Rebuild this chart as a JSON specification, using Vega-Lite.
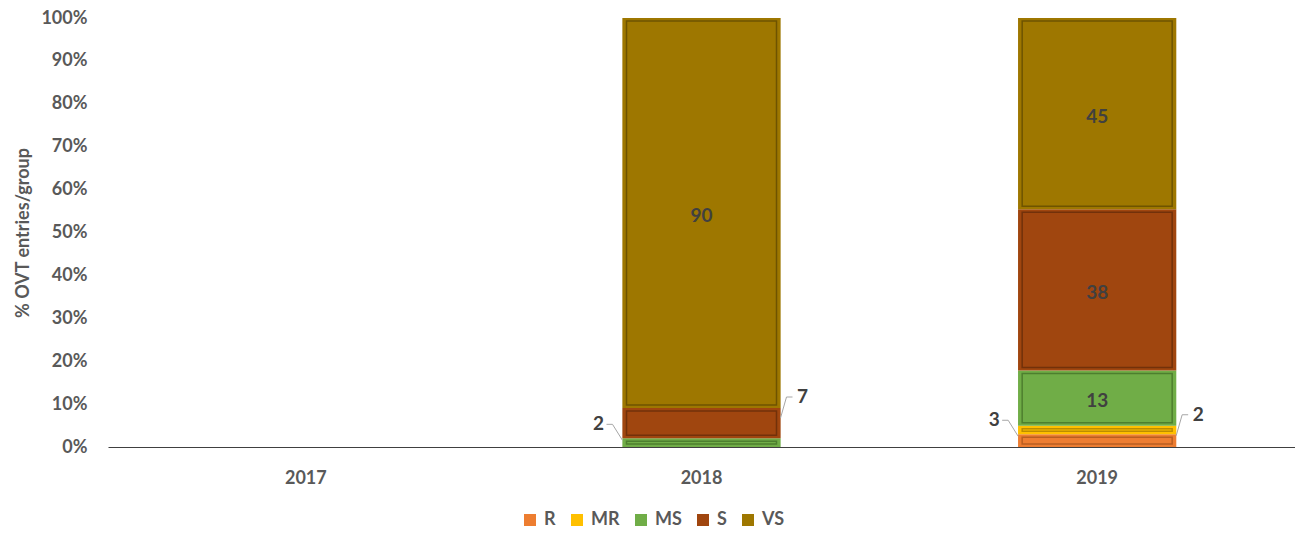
{
  "$schema": "https://vega.github.io/schema/vega-lite/v6.json",
  "autosize": "none",
  "width": 1187,
  "height": 429,
  "padding": {"left": 108, "top": 18, "right": 0, "bottom": 86},
  "background": "white",
  "config": {"view": {"stroke": null}, "font": "Lato"},
  "data": {
    "values": [
      {"year": "2018", "cls": "MS", "value": 2},
      {"year": "2018", "cls": "S", "value": 7},
      {"year": "2018", "cls": "VS", "value": 90},
      {"year": "2019", "cls": "R", "value": 3},
      {"year": "2019", "cls": "MR", "value": 2},
      {"year": "2019", "cls": "MS", "value": 13},
      {"year": "2019", "cls": "S", "value": 38},
      {"year": "2019", "cls": "VS", "value": 45}
    ]
  },
  "transform": [
    {"stack": "value", "groupby": ["year"], "offset": "normalize", "as": ["y0", "y1"]}
  ],
  "encoding": {
    "x": {
      "field": "year",
      "type": "nominal",
      "scale": {"domain": ["2017", "2018", "2019"], "paddingInner": 0.6, "paddingOuter": 0.3},
      "axis": {
        "title": null,
        "labelAngle": 0,
        "labelFontSize": 18,
        "labelFontWeight": "bold",
        "labelColor": "#595959",
        "labelPadding": 22,
        "ticks": false,
        "tickSize": 0,
        "domainColor": "#404040",
        "domainWidth": 1,
        "grid": false
      }
    }
  },
  "layer": [
    {
      "mark": {"type": "bar"},
      "encoding": {
        "y": {
          "field": "y1",
          "type": "quantitative",
          "scale": {"domain": [0, 1]},
          "axis": {
            "title": "% OVT entries/group",
            "values": [0, 0.1, 0.2, 0.3, 0.4, 0.5, 0.6, 0.7, 0.8, 0.9, 1],
            "format": ".0%",
            "domain": false,
            "ticks": false,
            "grid": false,
            "labelFontSize": 18,
            "labelFontWeight": "bold",
            "labelColor": "#595959",
            "labelPadding": 21,
            "titleFontSize": 18,
            "titleFontWeight": "bold",
            "titleColor": "#595959",
            "titlePadding": 8
          }
        },
        "y2": {"field": "y0"},
        "color": {
          "field": "cls",
          "type": "nominal",
          "scale": {
            "domain": ["R", "MR", "MS", "S", "VS"],
            "range": ["#ED7D31", "#FFC000", "#70AD47", "#A0460F", "#9E7700"]
          },
          "legend": {
            "title": null,
            "orient": "none",
            "legendX": 413,
            "legendY": 493,
            "direction": "horizontal",
            "symbolType": "square",
            "symbolSize": 144,
            "symbolStrokeWidth": 0,
            "labelFontSize": 18,
            "labelFontWeight": "bold",
            "labelColor": "#595959",
            "labelOffset": 5,
            "columnPadding": 12
          }
        }
      }
    },
    {
      "mark": {"type": "bar", "fillOpacity": 0, "strokeWidth": 1.5, "strokeOpacity": 0.7, "size": 150, "yOffset": 3, "y2Offset": -3},
      "encoding": {
        "y": {"field": "y1", "type": "quantitative"},
        "y2": {"field": "y0"},
        "stroke": {
          "field": "cls",
          "type": "nominal",
          "scale": {
            "domain": ["R", "MR", "MS", "S", "VS"],
            "range": ["#A4501A", "#A07800", "#3F6B25", "#5E2808", "#5A4400"]
          },
          "legend": null
        }
      }
    },
    {
      "mark": {"type": "text", "fontSize": 19, "fontWeight": "bold", "color": "#404040", "baseline": "middle", "align": "center", "dy": 3},
      "encoding": {
        "y": {"field": "value", "type": "quantitative", "stack": "normalize", "bandPosition": 0.5},
        "detail": {"field": "cls", "type": "nominal"},
        "order": {"field": "year"},
        "text": {"condition": {"test": "datum.value >= 10", "field": "value", "type": "quantitative"}, "value": ""}
      }
    },
    {
      "transform": [{"filter": "datum.value < 10 && (datum.cls == 'MS' || datum.cls == 'R')"}],
      "mark": {"type": "text", "fontSize": 19, "fontWeight": "bold", "color": "#404040", "baseline": "middle", "align": "center", "dx": -103, "dy": -14},
      "encoding": {
        "y": {"field": "y1", "type": "quantitative"},
        "text": {"field": "value", "type": "quantitative"}
      }
    },
    {
      "transform": [{"filter": "datum.value < 10 && (datum.cls == 'S' || datum.cls == 'MR')"}],
      "mark": {"type": "text", "fontSize": 19, "fontWeight": "bold", "color": "#404040", "baseline": "middle", "align": "center", "dx": 101, "dy": -11},
      "encoding": {
        "y": {"field": "y1", "type": "quantitative"},
        "text": {"field": "value", "type": "quantitative"}
      }
    },
    {
      "transform": [{"filter": "datum.value < 10 && (datum.cls == 'MS' || datum.cls == 'R')"}],
      "mark": {"type": "rule", "color": "#A6A6A6", "strokeWidth": 1, "xOffset": -95, "x2Offset": -89, "yOffset": -14, "y2Offset": -14},
      "encoding": {
        "x": {"field": "year", "type": "nominal", "bandPosition": 0.5},
        "x2": {"field": "year", "bandPosition": 0.5},
        "y": {"field": "y1", "type": "quantitative"},
        "y2": {"field": "y1"}
      }
    },
    {
      "transform": [{"filter": "datum.value < 10 && (datum.cls == 'MS' || datum.cls == 'R')"}],
      "mark": {"type": "rule", "color": "#A6A6A6", "strokeWidth": 1, "xOffset": -89, "x2Offset": -79, "yOffset": -14, "y2Offset": 2},
      "encoding": {
        "x": {"field": "year", "type": "nominal", "bandPosition": 0.5},
        "x2": {"field": "year", "bandPosition": 0.5},
        "y": {"field": "y1", "type": "quantitative"},
        "y2": {"field": "y1"}
      }
    },
    {
      "transform": [{"filter": "datum.value < 10 && (datum.cls == 'S' || datum.cls == 'MR')"}],
      "mark": {"type": "rule", "color": "#A6A6A6", "strokeWidth": 1, "xOffset": 79, "x2Offset": 85, "yOffset": 10, "y2Offset": -11},
      "encoding": {
        "x": {"field": "year", "type": "nominal", "bandPosition": 0.5},
        "x2": {"field": "year", "bandPosition": 0.5},
        "y": {"field": "y1", "type": "quantitative"},
        "y2": {"field": "y1"}
      }
    },
    {
      "transform": [{"filter": "datum.value < 10 && (datum.cls == 'S' || datum.cls == 'MR')"}],
      "mark": {"type": "rule", "color": "#A6A6A6", "strokeWidth": 1, "xOffset": 85, "x2Offset": 91, "yOffset": -11, "y2Offset": -11},
      "encoding": {
        "x": {"field": "year", "type": "nominal", "bandPosition": 0.5},
        "x2": {"field": "year", "bandPosition": 0.5},
        "y": {"field": "y1", "type": "quantitative"},
        "y2": {"field": "y1"}
      }
    }
  ]
}
